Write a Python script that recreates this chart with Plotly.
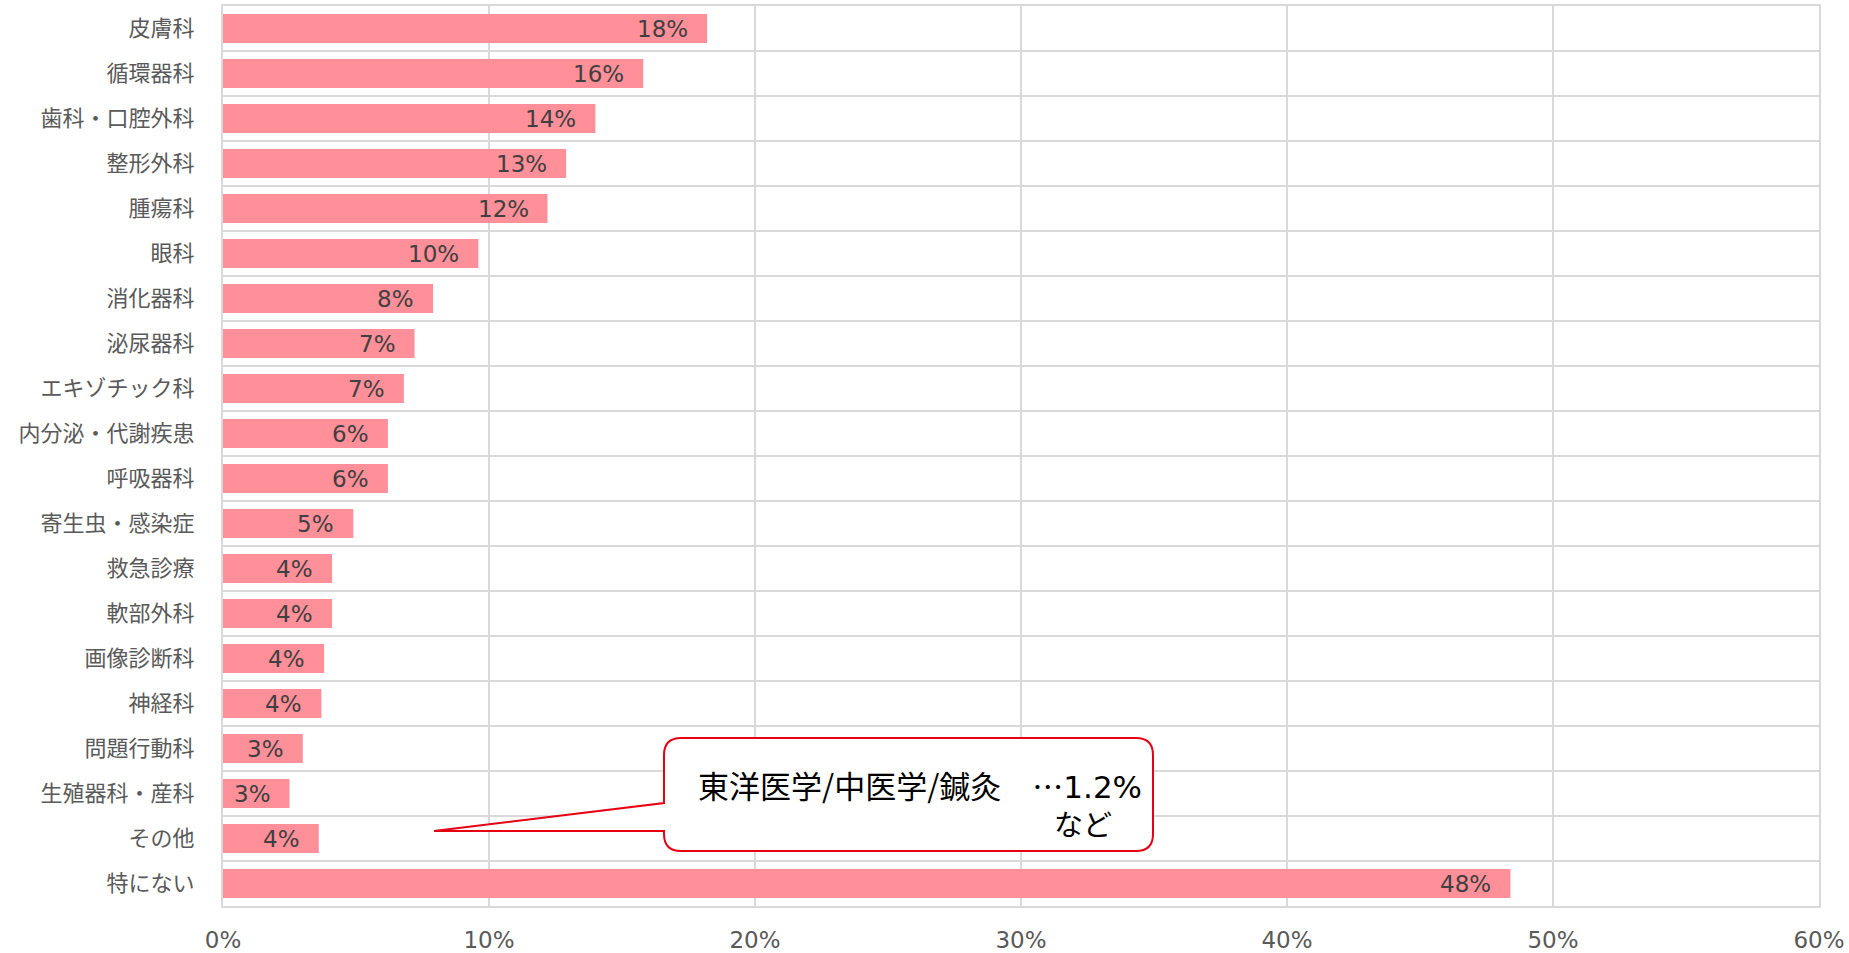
import plotly.graph_objects as go

# ---- data ----
categories = ["皮膚科", "循環器科", "歯科・口腔外科", "整形外科", "腫瘍科", "眼科",
              "消化器科", "泌尿器科", "エキゾチック科", "内分泌・代謝疾患", "呼吸器科",
              "寄生虫・感染症", "救急診療", "軟部外科", "画像診断科", "神経科",
              "問題行動科", "生殖器科・産科", "その他", "特にない"]
values = [18.2, 15.8, 14.0, 12.9, 12.2, 9.6, 7.9, 7.2, 6.8, 6.2, 6.2, 4.9,
          4.1, 4.1, 3.8, 3.7, 3.0, 2.5, 3.6, 48.4]
value_labels = ["18%", "16%", "14%", "13%", "12%", "10%", "8%", "7%", "7%", "6%",
                "6%", "5%", "4%", "4%", "4%", "4%", "3%", "3%", "4%", "48%"]
x_ticks = [0, 10, 20, 30, 40, 50, 60]
callout_text = "東洋医学/中医学/鍼灸　…"
callout_value = "1.2%"
callout_line2 = "など"

# ---- geometry ----
W, H = 1849, 953
ML, MR, MT, MB = 223, 30, 6, 47
PW, PH = W - ML - MR, H - MT - MB

def px(x):
    return (x - ML) / PW

def py(y):
    return (H - MB - y) / PH

GRID = "#D9D9D9"
BAR = "#FF8F99"
NUM_FONT = "Verdana, DejaVu Sans, Noto Sans CJK JP, sans-serif"
JP_FONT = "Noto Sans CJK JP, sans-serif"

fig = go.Figure(go.Bar(
    x=values, y=categories, orientation="h",
    marker=dict(color=BAR, line=dict(width=0)),
    hoverinfo="skip",
))

n = len(categories)
shapes = []
for i in range(1, n):
    shapes.append(dict(type="line", xref="paper", yref="y", x0=0, x1=1,
                       y0=i - 0.5, y1=i - 0.5, line=dict(color=GRID, width=2),
                       layer="below"))

# callout bubble (pixel geometry -> paper)
bx0, bx1, by0, by1, r = 664, 1153, 738, 851, 17
tipx, tipy, att_top, att_bot = 434, 831, 803, 831

def P(x, y):
    return f"{px(x):.5f},{py(y):.5f}"

path = (f"M {P(bx0 + r, by0)} L {P(bx1 - r, by0)} Q {P(bx1, by0)} {P(bx1, by0 + r)} "
        f"L {P(bx1, by1 - r)} Q {P(bx1, by1)} {P(bx1 - r, by1)} "
        f"L {P(bx0 + r, by1)} Q {P(bx0, by1)} {P(bx0, by1 - r)} "
        f"L {P(bx0, att_bot)} L {P(tipx, tipy)} L {P(bx0, att_top)} "
        f"L {P(bx0, by0 + r)} Q {P(bx0, by0)} {P(bx0 + r, by0)} Z")
shapes.append(dict(type="path", xref="paper", yref="paper", path=path,
                   fillcolor="white", line=dict(color="#E60012", width=2), layer="above"))

annotations = []
for c, v, t in zip(categories, values, value_labels):
    annotations.append(dict(x=v, y=c, xref="x", yref="y", text=t, showarrow=False,
                            xanchor="right", yanchor="middle", xshift=-17,
                            font=dict(family=NUM_FONT, size=23, color="#404040")))
annotations.append(dict(x=px(696), y=py(784), xref="paper", yref="paper",
                        text=callout_text + "<span style='font-family:DejaVu Sans'>"
                        + callout_value + "</span>",
                        showarrow=False, xanchor="left", yanchor="middle",
                        font=dict(family=JP_FONT, size=31, color="#000000")))
annotations.append(dict(x=px(1083), y=py(823), xref="paper", yref="paper",
                        text=callout_line2, showarrow=False, xanchor="center",
                        yanchor="middle",
                        font=dict(family=JP_FONT, size=29, color="#000000")))

fig.update_layout(
    width=W, height=H,
    margin=dict(l=ML, r=MR, t=MT, b=MB, pad=0, autoexpand=False),
    paper_bgcolor="white", plot_bgcolor="white",
    bargap=0.355, showlegend=False,
    shapes=shapes, annotations=annotations,
    xaxis=dict(range=[x_ticks[0], x_ticks[-1]], tickvals=x_ticks,
               ticktext=[f"{t}%" for t in x_ticks],
               showgrid=True, gridcolor=GRID, gridwidth=2,
               showline=True, linecolor=GRID, linewidth=2, mirror=True,
               zeroline=False, ticks="outside", ticklen=12, tickcolor="rgba(0,0,0,0)",
               tickfont=dict(family=NUM_FONT, size=23, color="#595959"),
               fixedrange=True, automargin=False),
    yaxis=dict(categoryorder="array", categoryarray=categories,
               range=[n - 0.5, -0.5], showgrid=False,
               showline=True, linecolor=GRID, linewidth=2, mirror=True,
               ticks="outside", ticklen=22, tickcolor="rgba(0,0,0,0)",
               tickfont=dict(family=JP_FONT, size=22, color="#595959"),
               fixedrange=True, automargin=False),
)

fig.write_html("out.html", config={"displayModeBar": False},
               post_script="document.body.style.margin='0px';document.body.style.overflow='hidden';")
